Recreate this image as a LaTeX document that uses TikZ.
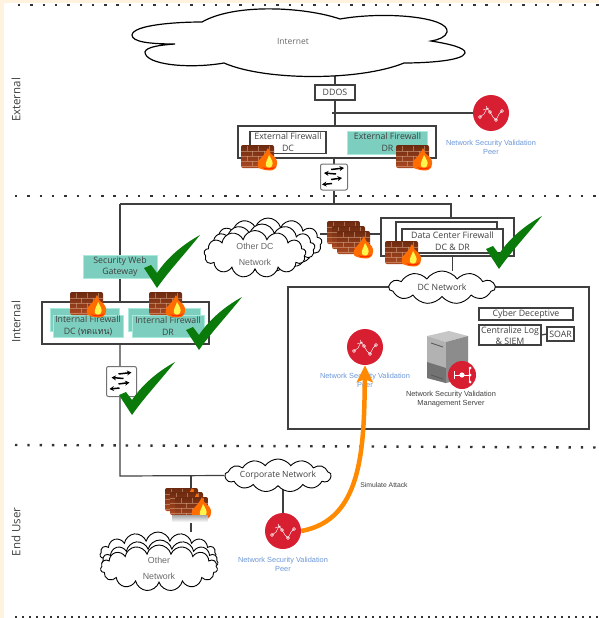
\documentclass[tikz,border=0pt]{standalone}
\usepackage{fontspec}
\setmainfont{Open Sans}
\newfontfamily\thaifont[Script=Thai]{Loma}
\newfontfamily\lab{Liberation Sans}
\usetikzlibrary{shapes.symbols,arrows.meta,backgrounds}
\pgfdeclarelayer{conn}
\pgfdeclarelayer{bgl}
\pgfsetlayers{bgl,conn,main}
\definecolor{cream}{HTML}{FFF3E0}
\definecolor{linegray}{HTML}{3F3F3F}
\definecolor{textgray}{HTML}{404040}
\definecolor{softgray}{HTML}{6A6A6A}
\definecolor{tealbox}{HTML}{7CCFBE}
\definecolor{tealedge}{HTML}{A8EBDC}
\definecolor{peerred}{HTML}{D81F32}
\definecolor{peerblue}{HTML}{6C98D8}
\definecolor{checkgreen}{HTML}{0A7A0A}
\definecolor{attack}{HTML}{FF8A00}
\definecolor{brickdark}{HTML}{6B2A10}
\definecolor{bricklight}{HTML}{AE4A22}
\definecolor{mortar}{HTML}{D8A888}
\tikzset{
  conn/.style={draw=linegray,line width=1.2pt},
  wbox/.style={draw=linegray,line width=1.2pt,fill=white,inner sep=0pt,align=center,text=textgray,font=\fontsize{8.8}{11}\selectfont},
  tbox/.style={draw=tealedge,line width=.8pt,fill=tealbox,inner sep=0pt,align=center,text=textgray,font=\fontsize{8.8}{12}\selectfont},
  netcloud/.style={cloud,cloud ignores aspect,draw=black,line width=.9pt,fill=white,inner sep=0pt,align=center,text=textgray},
  peer/.style={circle,fill=peerred,minimum size=36pt,inner sep=0pt},
  peerlabel/.style={text=peerblue,align=center,font=\lab\fontsize{7.4}{9}\selectfont},
  zone/.style={rotate=90,text=textgray,font=\fontsize{11.5}{13}\selectfont},
  dotline/.style={line width=2.4pt,dash pattern=on 2.4pt off 9.9pt,draw=black!80},
  swbox/.style={draw=black!55,line width=1pt,fill=white,rounded corners=2pt,inner sep=0pt},
  swarrow/.style={-{Stealth[length=4.5pt,width=5pt]},line width=1.5pt,black},
}
\newcommand{\brick}[2]{%
  \begin{scope}[shift={(#1,#2)}]
    \shade[top color=brickdark,bottom color=bricklight,rounded corners=2pt] (0,0) rectangle (33,23);
    \foreach \yy in {6,11,16,21}{\draw[mortar,line width=.3pt,opacity=.55] (0,\yy)--(33,\yy);}
    \foreach \xx/\yy in {6/1,17/1,28/1,11/6,23/6,6/11,17/11,28/11,11/16,23/16}{\draw[mortar,line width=.3pt,opacity=.55] (\xx,\yy)--(\xx,\yy+5);}
  \end{scope}}
\newcommand{\flame}[2]{%
  \begin{scope}[shift={(#1,#2)}]
    \fill[orange!85!red] (20,24) .. controls (15,24) and (16,15) .. (20,13) .. controls (23,10) and (25,7) .. (27,3)
       .. controls (29,7) and (29,9) .. (31,10) .. controls (34,11) and (37,16) .. (36,19) .. controls (36,24) and (32,25.5) .. (29,25.5) .. controls (26,25.5) and (23,25) .. (20,24) -- cycle;
    \fill[red!70!orange] (21,22) .. controls (23,25.5) and (33,25.5) .. (35,21) .. controls (31,24) and (25,24) .. (21,22) -- cycle;
    \fill[yellow!70!white] (25,21) .. controls (24,17) and (27,14) .. (28,10) .. controls (30,14) and (33,17) .. (31,21) .. controls (30,23) and (26,23) .. (25,21) -- cycle;
  \end{scope}}
\newcommand{\firewall}[2]{\brick{#1}{#2}\flame{#1}{#2}}
\newcommand{\peericon}[1]{%
  \begin{scope}[shift={(#1)},white,line width=.45pt]
    \draw (-11,4)--(-7,1)--(-4,-5)--(-1,-1)--(2,4)--(5,7)--(8,1)--(11,-2);
    \draw (-5,-7)--(-3,-3) (-8,-3)--(-2,-5);
    \foreach \p in {(-11,4),(-1,-1),(5,7),(11,-2)}{\draw \p circle (1.5);}
  \end{scope}}
\newcommand{\switchicon}[1]{%
  \begin{scope}[shift={(#1)}]
    \draw[swarrow] (-3,-7.5)--(10,-9);
    \draw[swarrow] (2,-3)--(-10,-4);
    \draw[swarrow] (-3,2.5)--(8,1);
    \draw[swarrow] (-2,6.5)--(-12,7.5);
  \end{scope}}
\newcommand{\tick}[2]{%
  \fill[checkgreen,shift={(#1,#2)}] (0,0) -- (-13,-20) -- (-6,-23) -- (0,-15) .. controls (10,-30) and (25,-43) .. (43,-53) .. controls (27,-33) and (11,-16) .. (0,0) -- cycle;}
\begin{document}
\begin{tikzpicture}[x=1pt,y=-1pt]
\useasboundingbox (0,0) rectangle (599,618);
\begin{pgfonlayer}{bgl}
  \fill[white] (0,0) rectangle (599,618);
  \fill[cream] (0,0) rectangle (599,3);
  \fill[cream] (0,0) rectangle (4,618);
\end{pgfonlayer}
% zone separators
\draw[dotline] (18,5)--(599,5);
\draw[dotline] (15,196)--(599,196);
\draw[dotline] (15,445)--(599,447.5);
\draw[dotline,dash pattern=on 2.4pt off 4.6pt] (15,617)--(599,617);
\node[zone] (zext) at (16,100) {External};
\node[zone] (zint) at (16,322) {Internal};
\node[zone] (zend) at (16,532) {End User};
% Internet cloud
\path[draw=black,line width=1.2pt,fill=white] (202,22)
  .. controls (235,3) and (305,7) .. (340,19)
  .. controls (385,11) and (450,17) .. (447,32)
  .. controls (446,37) and (438,40) .. (431,41)
  .. controls (450,44) and (466,48) .. (465,53)
  .. controls (463,61) and (425,63) .. (404,63)
  .. controls (360,81) and (265,81) .. (224,63)
  .. controls (190,69) and (145,65) .. (145,52)
  .. controls (146,47) and (160,45) .. (175,44)
  .. controls (150,44) and (132,42) .. (132,35)
  .. controls (133,25) and (175,22) .. (202,22) -- cycle;
\node[text=softgray,font=\fontsize{8.5}{10}\selectfont] (internet) at (293,42) {Internet};
\node[wbox,minimum width=40pt,minimum height=15pt] (ddos) at (335,92.5) {DDOS};
\coordinate (inetb) at (335,75);
% external firewalls
\node[wbox,minimum width=198pt,minimum height=32pt] (extbox) at (337,142) {};
\node[wbox,minimum width=76pt,minimum height=22pt,font=\fontsize{8.8}{12}\selectfont] (extdc) at (288,142.5) {External Firewall\\DC};
\node[tbox,minimum width=80pt,minimum height=23pt] (extdr) at (387.5,142.5) {External Firewall\\DR};
\firewall{241}{145}
\firewall{396}{145}
\node[peer] (peerext) at (491,113) {};
\peericon{peerext}
\coordinate (peerextl) at (332,113);
\node[peerlabel] (peerextt) at (491,147.5) {Network Security Validation\\Peer};
\node[swbox,minimum width=27pt,minimum height=26pt] (sw1) at (334,177) {};
\switchicon{sw1}
\coordinate (tr) at (335,204);
\coordinate (trl) at (120,204);
\coordinate (trr) at (451,204);
% other DC network
\node[netcloud,cloud puffs=13,minimum width=108pt,minimum height=50pt] (odc3) at (268,243) {};
\node[netcloud,cloud puffs=13,minimum width=106pt,minimum height=48pt] (odc2) at (262,248) {};
\node[netcloud,cloud puffs=13,minimum width=102pt,minimum height=47pt,text=softgray,font=\lab\fontsize{8.8}{16}\selectfont] (odc1) at (255,254) {Other DC\\Network};
\coordinate (odcr) at (320,234);
% data center firewall
\node[wbox,minimum width=133pt,minimum height=38pt] (dcout) at (447.5,237) {};
\node[wbox,minimum width=101pt,minimum height=30pt] (dcmid) at (446.5,237) {};
\node[wbox,minimum width=101pt,minimum height=24pt,font=\fontsize{8.8}{12}\selectfont] (dcfw) at (452.5,241) {Data Center Firewall\\DC \& DR};
\brick{327}{221}\brick{332}{226}\brick{337}{231}\flame{337}{233}
\firewall{385}{241}
% DC network box
\node[wbox,minimum width=301pt,minimum height=142pt] (dczone) at (438.5,358) {};
\node[netcloud,cloud puffs=11,cloud puff arc=110,minimum width=106pt,minimum height=33pt,font=\fontsize{8.7}{10}\selectfont] (dcnet) at (442,287.5) {DC Network};
\node[wbox,minimum width=94pt,minimum height=12pt] (cyber) at (526,314) {Cyber Deceptive};
\node[wbox,minimum width=62pt,minimum height=20pt] (siem) at (510,335) {};
\node[text=textgray,align=center,inner sep=0pt,font=\fontsize{8.8}{11}\selectfont] (siemt) at (510,335.5) {Centralize Log\\\& SIEM};
\node[wbox,minimum width=27pt,minimum height=14pt] (soar) at (560.5,334) {SOAR};
\node[peer] (peermid) at (365,347) {};
\peericon{peermid}
\node[peerlabel] (peermidt) at (365,380.5) {Network Security Validation\\Peer};
% server
\fill[black!22] (427,336)--(449,331)--(468,336)--(446,342)--cycle;
\fill[black!30] (427,336)--(446,342)--(446,383)--(427,378)--cycle;
\fill[black!55] (427,362)--(446,368)--(446,383)--(427,378)--cycle;
\fill[black!45] (446,342)--(468,336)--(468,378)--(446,383)--cycle;
\draw[black!65,line width=.8pt] (431,343)--(443,347) (431,375)--(443,379);
\node[circle,fill=peerred,minimum size=28pt,inner sep=0pt] (srvbadge) at (462,375) {};
\begin{scope}[shift={(srvbadge)},white]
  \draw[line width=.8pt] (-8,-4)--(-8,4) (-8,0)--(7,0) (7,-7)--(7,7);
  \fill (0,0) circle (2.6);
  \foreach \yy in {-7,0,7}{\fill (8,\yy) circle (1.5);}
\end{scope}
\node[text=textgray,align=center,font=\lab\fontsize{7.4}{9}\selectfont] (srvt) at (451,399) {Network Security Validation\\Management Server};
% internal left
\node[tbox,minimum width=74pt,minimum height=23pt,font=\fontsize{8.8}{11.5}\selectfont] (swg) at (120,266.5) {Security Web\\Gateway};
\node[wbox,minimum width=167pt,minimum height=42pt] (intbox) at (125.5,323) {};
\node[tbox,minimum width=69pt,minimum height=23pt] (intdcb) at (84.5,319.5) {};
\node[tbox,minimum width=70pt,minimum height=22pt] (intdc) at (88,326) {Internal Firewall\\DC ({\thaifont ทดแทน})};
\node[tbox,minimum width=72pt,minimum height=23pt] (intdrb) at (164,319.5) {};
\node[tbox,minimum width=72pt,minimum height=22pt] (intdr) at (168,326) {Internal Firewall\\DR};
\firewall{70}{292}
\firewall{149}{292}
\node[swbox,minimum width=30pt,minimum height=30pt] (sw2) at (121.5,381.5) {};
\switchicon{sw2}
\coordinate (corl) at (120,476);
\coordinate (corb) at (191,476);
% end user
\node[netcloud,cloud puffs=13,cloud puff arc=110,minimum width=106pt,minimum height=33pt,font=\fontsize{8.5}{10}\selectfont] (corp) at (278,475.5) {Corporate Network};
\node[netcloud,cloud puffs=15,minimum width=116pt,minimum height=44pt] (oth3) at (158,554) {};
\node[netcloud,cloud puffs=15,minimum width=116pt,minimum height=44pt] (oth2) at (160,562) {};
\node[netcloud,cloud puffs=15,minimum width=117pt,minimum height=46pt,text=softgray,font=\lab\fontsize{8.8}{16}\selectfont] (oth1) at (159,568) {Other\\Network};
\brick{165}{488}\flame{165}{485}
\brick{170}{492}\flame{170}{490}
\brick{175}{497}\flame{175}{494}
\shade[top color=black!35,bottom color=white] (172,515) rectangle (208,522);
\node[peer] (peerlow) at (283,531) {};
\peericon{peerlow}
\node[peerlabel] (peerlowt) at (283,564) {Network Security Validation\\Peer};
\node[text=textgray,font=\lab\fontsize{6.8}{8}\selectfont] (simt) at (384,485) {Simulate Attack};
% ticks
\tick{157}{288}
\tick{499}{269}
\tick{199}{350}
\tick{132}{415}
% attack arrow
\draw[attack,line width=4.5pt,-{Stealth[length=17pt,width=16pt,inset=3pt]}] (peerlow.east) .. controls (362,520) and (364,450) .. (peermid.south);
% connectors
\begin{pgfonlayer}{conn}
  \draw[conn] (inetb) -- (ddos.north);
  \draw[conn] (ddos.south) -- (ddos.south |- extbox.north);
  \draw[conn] (peerextl) -- (peerext.west);
  \draw[conn] (sw1.north) -- (sw1.north |- extbox.south);
  \draw[conn] (sw1.south) -- (sw1.south |- tr);
  \draw[conn] (trl) -- (trr) -- (trr |- dcout.north);
  \draw[conn] (trl) -- (swg.north -| trl);
  \draw[conn] (swg.south -| trl) -- (intbox.north -| trl);
  \draw[conn] (intbox.south -| trl) -- (corl) -- (corp.west);
  \draw[conn] (corb) -- (corb |- oth3.north);
  \draw[conn] (corp.south -| peerlow.north) -- (peerlow.north);
  \draw[conn] (odcr) -- (odcr -| dcout.west);
  \draw[conn] (dcfw.south) -- (dcnet.north -| dcfw.south);
  \draw[conn] (dcnet.south -| 447,0) -- (447,318) -- (365,318) -- (peermid.north);
\end{pgfonlayer}
\draw[conn] (siem.east) -- (soar.west);
\end{tikzpicture}
\end{document}
